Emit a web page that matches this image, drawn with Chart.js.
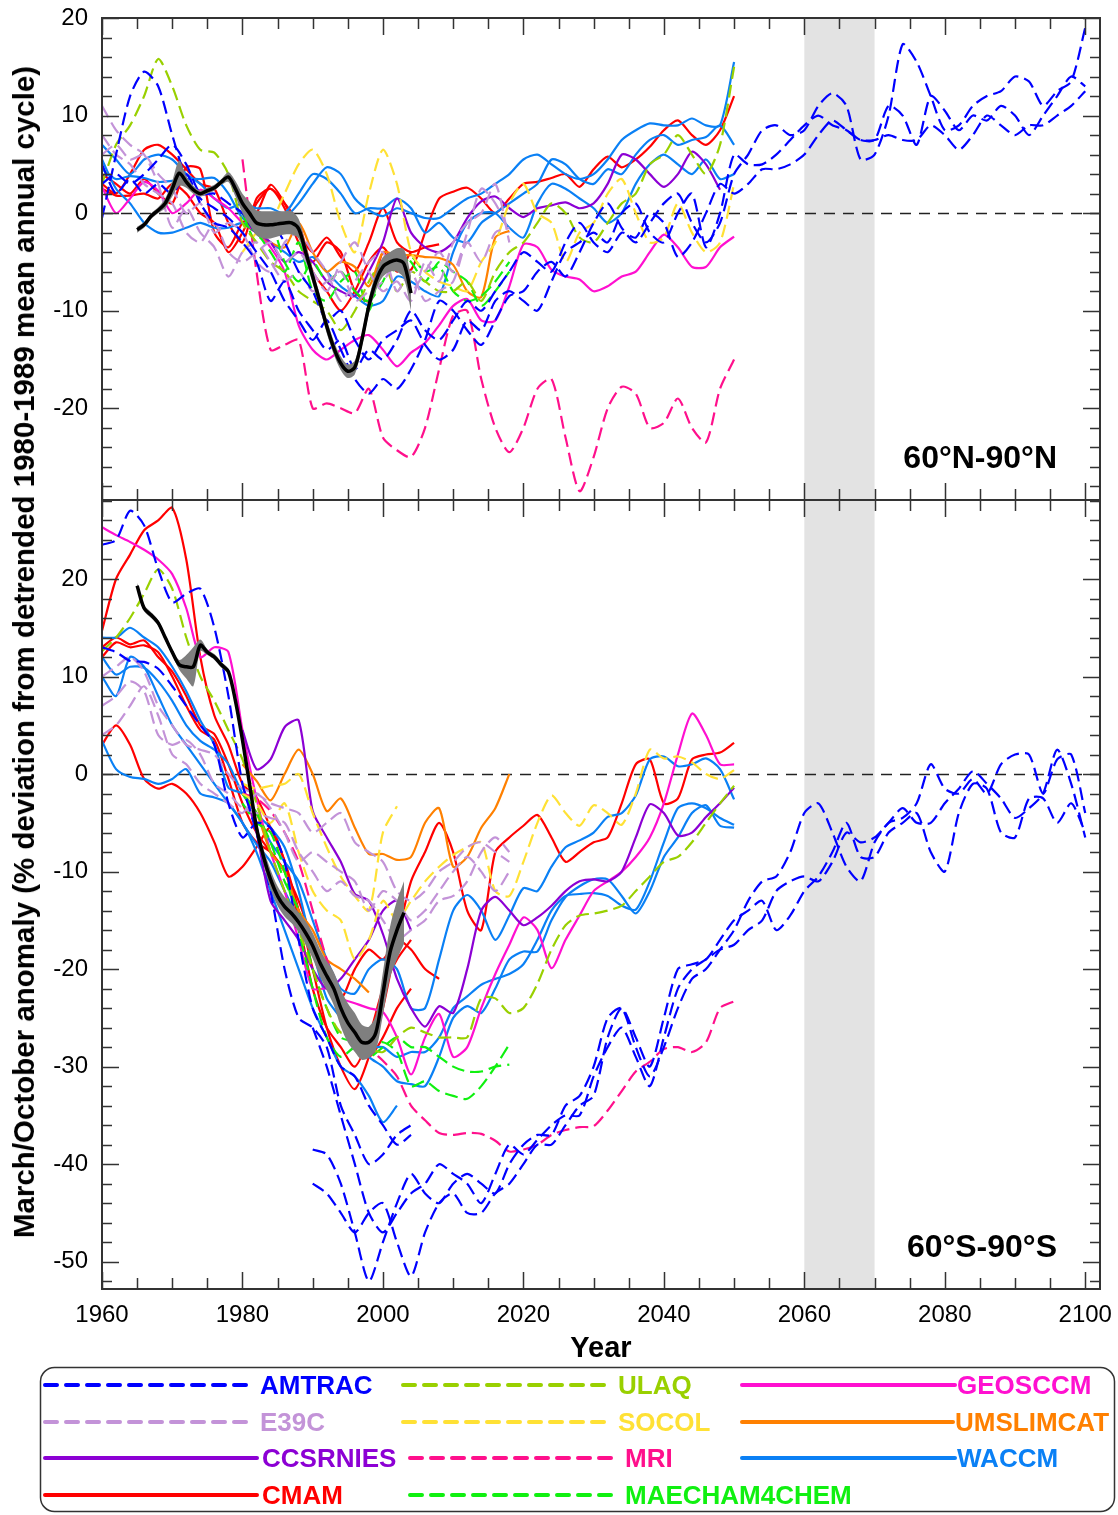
<!DOCTYPE html>
<html>
<head>
<meta charset="utf-8">
<script src="https://cdn.jsdelivr.net/npm/chart.js@4.4.1/dist/chart.umd.min.js"></script>
<style>
  body { margin: 0; background: #fff; width: 1118px; height: 1515px; position: relative; overflow: hidden;
         font-family: "Liberation Sans", Arial, sans-serif; color: #000; }
  #cN { position: absolute; left: 0; top: 0; }
  #cS { position: absolute; left: 0; top: 480px; }
  .ytitle { position: absolute; left: 24px; top: 652px; transform: translate(-50%, -50%) rotate(-90deg);
            white-space: nowrap; font-weight: bold; font-size: 29.5px; }
  .region { position: absolute; right: 61px; font-weight: bold; font-size: 32px; line-height: 32px; white-space: nowrap; }
  #legend { position: absolute; left: 0; top: 1360px; }
</style>
</head>
<body>
<canvas id="cN" width="1118" height="520"></canvas>
<canvas id="cS" width="1118" height="886"></canvas>
<div class="ytitle">March/October anomaly (% deviation from detrended 1980-1989 mean annual cycle)</div>
<div class="region" style="top:441px">60°N-90°N</div>
<div class="region" style="top:1230px">60°S-90°S</div>
<svg id="legend" width="1118" height="155"></svg>

<script>
// axes
const xMin = 1960, xMax = 2102.1;
const xTicks = [1960, 1980, 2000, 2020, 2040, 2060, 2080, 2100];
const yTicksN = [-20, -10, 0, 10, 20];
const yTicksS = [-50, -40, -30, -20, -10, 0, 10, 20];
const yRangeN = [-29.4, 20];
const yRangeS = [-52.8, 28.1];
const futureBand = [2060, 2070];

// ---- 60N-90N, values every 2 years ----
const amtracN1 = [-0.5, 6, 12, 14.5, 13, 8, 3.5, 1.5, 0.5, -0.5, -2, -4, -6, -9, -11, -13, -11, -14, -17, -18.5,
  -17, -18, -16, -13, -9, -10, -12, -13.5, -11, -8.5, -8, -6, -5, -6.5, -4, -1, 1, -1.5, -3, -1,
  1, 2, -1, -3, -1, 4, 6, 8.5, 9, 8, 8.5, 11, 12.3, 11, 5.5, 6, 10, 17.3, 15.5, 12,
  8.5, 9, 11, 12, 12.5, 14, 13.5, 11, 12.5, 13.5, 19];
const amtracN2 = [3, 4, 3, 4, 5.5, 7, 5, 2, 2, 1, 0, -2, -1, -3, -6, -8, -11, -10, -13, -15,
  -13, -12, -11, -13.5, -15, -14, -11, -12, -9, -8, -9, -10, -7, -4, -3, -2, -3, 0, 1, -2,
  -3, 0, 2, -3.5, 0, 6, 5, 5, 6, 7.5, 9, 10, 9, 8.5, 7.5, 7.5, 11, 10, 7, 12,
  10.5, 8.5, 10, 9.5, 11, 10, 8, 10, 12, 14, 13];
const amtracN3 = [5, 2, 3.5, 2, 3, 2, 4, 1, -1, -1.5, -3, -5, -9, -7, -10, -12, -14, -13, -16, -14,
  -15, -13, -10, -12, -13, -11, -9, -10, -8, -6, -4, -5, -6, -3, -1, -3, -4, -2, -2.5, 0,
  -1, -4.5, -3, 0, 3, 2, 3, 4.5, 4.5, 5, 6, 8, 9.5, 8.5, 7.5, 7.5, 8, 7.5, 7.5, 9,
  8, 6.5, 8, 10, 9, 8, 9, 9, 10, 11, 12.5];
const e39cN1 = [11, 8.5, 7, 6, 3, -1.5, 0.5, -2, -3.5, -6.5, -4, -3, -5, -7, -6, -8, -7, -6, -9, -8,
  -7, -5, -8, -6, -4, -6, -2, 2.5, 1, -2];
const e39cN2 = [8, 6, 5, 3, 2, 1, -2, -3, -1, -4, -5, -4, -3, -5, -4, -6, -8, -5, -3, -6,
  -8, -7, -9, -5, -7, -3, -1, 0, 3, -3];
const e39cN3 = [6, 7, 5.5, 6, 4, 2.5, 0, 1, -2, -1, -2, -5, -6, -3, -2, -4, -6, -9, -7, -5,
  -4, -8, -6, -9, -8, -7, -3, -5, -2, -1.5];
const ulaqN = [3, 7, 9, 12, 15.8, 13, 9, 6.5, 6.2, 4, -1, -3, -5, -6, -8, -9, -10, -12, -10, -7,
  -5, -8, -6, -7, -8, -8, -7, -9, -6, -4, -3, -1, 1, 0, -2.5, -3, -1, 1, 2, 5,
  6, 8, 6, 4, 7, 15];
const socolN = [-4, -2, -1, 2, 5, 6.5, 4, -1, -4, 2, 6.5, 3, -4, -6, -7, -7.5, -8, -5, -3, 1,
  3, 0, -1, -5, -2, -1, 2, 3.5, 0, -3, -2.5, 1, -2, -4, -3, 3];
const mriN = [5.5, -6, -14, -13.5, -13, -20, -19.5, -20, -20.5, -18, -23, -24.3, -25, -22, -16,
  -10.5, -10, -17, -22, -24.5, -22, -18, -17, -23, -28.5, -25, -20, -17.8, -18.5, -22,
  -21.5, -19, -22, -23.5, -18, -15];
const maeN1 = [-1, -2, -4, -6, -3, -8, -9, -7, -6, -10, -5, -6, -4.5, -6, -5.5, -8, -9, -8.5, -7, -5];
const maeN2 = [0, -3, -1, -5, -7, -5, -7, -6, -8, -9, -7, -4, -5, -7, -5, -6, -7, -9.5, -8, -6];
const ccsrN = [-1, -2, -3, -5, -4, -5, -7, -8, -8.5, -6, -3, 1.5, -2, -3.5, -4, -3, -0.5, 1.2, 1.7, 0.5,
  -0.4, 0.5, 0.8, 1.1, 0.5, 1, 3, 6, 5.5, 4, 2.7, 4, 6.3, 5, 2.4];
const cmamN1 = [3, 2, 4, 6.5, 7, 6, 4.5, 3, 2.5, -1, -3, 1.5, 2.5, 1, -1, -6, -8, -10, -8, -5,
  -3.5, -5.5, -5.8, -2, 1.5, 2.2, 2.6, 1.5, 0, 1.5, 3, 3.2, 3.6, 4, 2.7, 4.5, 5.8, 4.7, 5.5, 6.8,
  8.5, 9.5, 8, 7, 8.5, 12];
const cmamN2 = [2.5, 1.8, 1.8, 2, 1.5, 3, 2, 0, -1, -4, -2, 1, 2.5, 0.5, -3, -5, -3, -4, -8, -9,
  -4, -6, -4];
const cmamN3 = [4, 3, 2, 3.5, 2, 1, 4.7, 4.5, -2, -3.5, -1, 0, 2.9, 1, -2, -4, -2.5, -4.5, -6, -3,
  0.5, -3, -4, -3.5, -3.2];
const geosN = [2.7, 0, 1.5, 3.2, 2.3, 0, 1, 2.4, 1.5, 0.5, -1, -2, -3.5, -6, -11.5, -14, -15, -14, -13, -12.5,
  -14, -15.7, -14.3, -13.3, -11.5, -9.5, -8.8, -11, -11, -7.5, -3.2, -3.5, -5.8, -6.5, -6.8,
  -8, -7.5, -6.5, -6, -4, -2.2, -3.5, -5.5, -5.5, -3.5, -2.4];
const umslN = [-1, -2, -3, -3.5, -1, -4, -6, -5, -5.5, -7.5, -4, -4.3, -4.3, -4.5, -4.6, -5.3, -8, -8.6, -2.5, -1.8];
const waccmN1 = [4.5, 3.5, 3.8, 3.6, 3.2, 3.3, 3.5, 3.5, 3.6, 2, -0.5, -1, -1.2, -0.5, 1, 3, 4.7, 4, 1.5, 0.3,
  -0.3, 0.5, 0, -0.5, -0.5, 0.5, 1.5, 2, 3, 4, 5.5, 6, 5, 4, 3.5, 4, 5.5, 7.5, 8.5, 9.2,
  9, 9, 9.7, 9, 9, 15.5];
const waccmN2 = [7, 5.5, 4, 5.5, 6, 5.5, 4, 3, 1.5, 0.5, 1, 0.5, 0.5, 0, 2, 4, 3.5, 2, 0, 0.5,
  0.5, 1.5, 0.5, -2, -1, -2.5, -3, -1, 0, 1, 2, 3, 5.5, 5, 3.5, 3, 4.5, 4, 6, 7.5,
  8, 7, 7.5, 7.8, 9, 7];
const waccmN3 = [5.5, 2.5, 1, -1, -2, -2, -1.5, -1, -1.5, -1.5, -1, -2, -3, -4, -5, -4.5, -6, -7.5, -8.5, -9.5,
  -9, -6.5, -7, -8, -8.5, -4, -1, 0, 0, -1.5, -2.5, 1, 3, 2.5, 1.5, 0.5, -1, 0, 3, 5,
  6, 5, 4, 5.5, 3.5, 4];
// observations, yearly from 1965, with band half-width
const obsN = [-1.7, -1.2, -0.3, 0.3, 1, 2.5, 4.1, 3.2, 2.4, 2, 2.3, 2.6, 3.2, 3.7, 2.5,
  1, 0, -1, -1.2, -1.2, -1.1, -1, -1, -1.6, -4, -6.5, -9, -11.6, -13.8, -15.4,
  -16.2, -15.8, -13, -9.5, -7, -5.5, -5, -4.8, -5.2, -8.2];
const obsNErr = [0.3, 0.3, 0.3, 0.3, 0.5, 0.8, 1.3, 0.6, 0.4, 0.3, 0.3, 0.3, 0.3, 0.5, 0.8,
  1, 1.2, 1.3, 1.4, 1.4, 1.3, 1.2, 1.2, 1, 0.8, 0.7, 0.7, 0.7, 0.7, 0.7,
  0.7, 0.7, 0.7, 0.8, 0.9, 1, 1, 1.2, 1.5, 1.8];

// ---- 60S-90S, values every 2 years ----
const amtracS1 = [23.5, 24, 27, 25.5, 21, 17.6, 18.5, 19, 15, 8, -1, -6, -12, -20, -25, -26, -28, -34, -37, -40,
  -39, -37, -36];
const amtracS2 = [13, 12.5, 11.6, 11.5, 10.8, 9, 7, 5, 3, -3, -6.5, -5, -5.5, -9, -17, -24, -27, -30, -31, -34,
  -36, -38, -37];
const amtracS3 = [-38.5, -39, -42, -47, -52, -48, -44, -41, -43, -44, -42, -41, -42, -43, -40,
  -38, -37, -37, -34, -33, -30, -25, -24, -28, -31, -28, -24, -21, -20, -18,
  -16, -13, -11, -10.5, -8, -4, -3, -6, -9.5, -11, -7, -5, -4.5, -3, 1,
  -1.5, -2, -0.5, -2, 1, 2, 2, -2, 1.5, 2, -4];
const amtracS4 = [-42, -43, -45, -47, -45, -44, -48, -51.5, -47, -44, -43, -45, -45, -43, -42,
  -40, -38, -38, -36, -34, -33, -27, -24, -27, -30, -25, -20, -19.5, -19, -17,
  -15, -14, -13, -16, -14.5, -12, -10.5, -8, -5, -8.5, -8.5, -6, -5, -4, -8,
  -10, -4, -1, -1.5, -6, -6.5, -2.5, -2.5, -5, -3, -6];
const amtracS5 = [-26, -30, -35, -40, -45, -47, -45, -43, -42, -40, -41, -42, -44, -41, -38,
  -39, -37.5, -36, -35, -35, -31, -28, -26, -29, -32, -27, -22, -20, -19, -18,
  -17.5, -16, -15, -12, -11, -10.5, -11, -9, -6, -7, -6.5, -5, -3.5, -5, -5,
  -3, -1.5, 0.3, -1, -2.5, -4.5, -3.5, -2, 2.5, -1, -6.5];
const e39cS1 = [10, 11, 12, 10.5, 7, 5, 3, 2.5, 2, 0, -1.5, -2, -3, -3.5, -4, -6, -5, -4, -7, -8,
  -9, -12, -13, -12, -10, -9, -7.5, -7, -8, -9];
const e39cS2 = [7, 8, 9.5, 8.5, 4, 3, 3.5, 2, -1, -2, -3.5, -4, -4.5, -5, -8, -10, -12, -11, -12.5, -13,
  -15, -17, -16, -15, -13, -12.5, -11, -8, -6.5, -8];
const e39cS3 = [4, 5, 7, 9, 6, 2, 1, -1, -2, -3, -4, -2, -3.5, -6, -9, -8, -9, -10, -11, -14,
  -12, -13, -15, -14, -12, -10, -8.5, -10, -12, -10];
const ulaqS = [12.6, 14, 16, 18.5, 21, 19, 14, 10, 7.5, 4.5, 1.5, -3, -8, -12, -16, -20, -24, -26.5, -26, -28,
  -28.5, -27, -26, -26.5, -27, -27, -27, -23, -23, -24.5, -24, -21.5, -18, -15.5, -14.5,
  -14.3, -14, -13.5, -12, -10.5, -9, -8.5, -7, -5, -3, -1.2];
const socolS1 = [-1, -1.5, -1.2, -1, 0, -4, -7.5, -10.5, -12.5, -14, -6, -3.3];
const socolS2 = [-2, -3, -5, -3, -8, -12, -14, -15, -19, -17, -13, -15, -13, -11, -9.5, -8.3, -7.5, -7, -12, -12.5,
  -9, -5, -2.2, -4, -5.3, -3.2, -4, -5.2, -2, 2.5, 1.6, 1.8, 1.2, 0, -0.5, 0.4];
const mriS = [-2, -2.5, -3.8, -6, -9, -14, -19, -23, -25, -28, -29.4, -31, -34, -35.5, -36.8,
  -37, -36.8, -36.9, -37.6, -38.7, -38.5, -38, -37, -36.5, -36.2, -36.1, -34.5, -32.5, -30.5, -29.5,
  -28.2, -28, -28.5, -27.5, -24, -23.3];
const maeS1 = [-3, -5, -6, -10, -16, -22, -27, -29, -28, -28, -27.5, -28.5, -32, -31.5, -32.5, -33, -33.3, -32, -30, -27.7];
const maeS2 = [-2, -4, -7, -11, -14, -20, -24, -27, -27.5, -29, -28, -27, -28, -28, -29, -30, -30.5, -30.5, -30, -29.8];
const ccsrS1 = [4.5, 0.5, 1.5, 4.8, 5.5, -3.8, -6.5, -9, -12.3, -13, -16.4, -21, -24, -25.9, -23.8,
  -24.5, -20, -14, -12.6, -14, -15.5, -14.7, -13.5, -12, -11, -10.8, -11, -10, -6.5, -3.1,
  -4, -6.3, -6, -4.4, -3, -1.4];
const ccsrS2 = [-1, -6, -13, -15, -17, -20, -22, -21, -19, -17, -14, -13, -16];
const cmamS1 = [14.7, 20, 22.5, 25, 26, 27.3, 22, 12, 6, 3, -1, -2.4, -5.5, -8.9, -14, -20, -26, -30, -32.3, -29,
  -24, -17, -11, -8, -5, -8, -14, -16, -8, -6.5, -5.3, -4.2, -6.5, -9, -8, -7, -6.5, -3, 1, 1.5,
  -3, -2.5, 1.5, 2, 2.2, 3.2];
const cmamS2 = [12, 13.5, 13, 13.2, 12.5, 10, 7, 4.5, 3.5, -0.5, -5, -7, -8, -10, -14, -18, -20, -23, -20, -18,
  -19, -17, -18, -20, -21];
const cmamS3 = [3, 5, 3, -0.5, -1.5, -1, -2, -4, -7, -10.5, -9.5, -7.5, -5.5, -9, -15, -22, -26, -28, -30, -27,
  -22, -19, -17];
const cmamS4 = [13, 14, 13.3, 13.7, 12, 10.5, 8, 5, 4.1, 1, -3, -6, -8, -10, -13, -17, -20, -23, -27, -29,
  -27, -24, -22];
const geosS = [25.3, 24.5, 23.8, 23, 22, 20.5, 17, 12, 13, 12.5, 4.5, -2.5, -8, -12, -17, -22, -22, -23, -23.5, -24,
  -24.4, -27, -30.8, -27, -24.6, -29, -28, -24, -20.5, -17.5, -14.7, -16, -19.9, -17, -14.5,
  -12, -11, -10, -8.5, -6.5, -3, 2, 6.2, 4, 1, 1];
const umslS1 = [1, -0.7, -2.7, 0, 2.5, 0, -3.8, -2.5, -5.5, -8.2, -8.2, -8.8, -8.5, -5, -3.5, -9.5, -8.5, -5.5, -3.5, 0];
const umslS2 = [-2, -4, -8, -10, -14, -16, -19, -20, -21, -22.4];
const waccmS1 = [14, 14, 15, 14, 13, 11, 8.5, 5.5, 3, -1.4, -2, -4, -7, -9, -11, -15, -19, -22, -22.5, -20,
  -19, -20, -24, -24, -19, -14, -12.4, -14, -17, -14.5, -11.7, -12, -9.5, -7.5, -6.8,
  -6, -4.4, -4, -2.2, 1.5, 1.8, 0.8, 1, 1.6, 0.5, -2.6];
const waccmS2 = [12, 10.2, 11, 10.9, 9.5, 7.5, 5, 3.4, 2.5, 1, -2, -4.1, -5.5, -7.5, -12, -18, -23, -25, -27, -29,
  -30, -31.5, -31.8, -32, -29, -25, -23.8, -24.5, -22, -19, -18.2, -18.2, -15, -12.6, -11.5,
  -10.8, -10.8, -12.5, -14.3, -12, -8.5, -6.5, -4, -3.2, -5.3, -5.5];
const waccmS3 = [3.4, 0.5, -0.3, -0.5, -1, -0.5, 0.5, -2, -2.4, -3, -5, -7.2, -9, -12, -15, -18, -21, -25, -27, -28,
  -28, -29, -28.5, -28.5, -27, -24, -22.8, -21.6, -21, -20.5, -19.5, -17, -14, -12.5, -12.3,
  -12.2, -12.5, -13.5, -13.9, -11, -7, -3.5, -3, -3.5, -4.5, -5.2];
const waccmS4 = [10, 8, 12, 11, 8, 5, 3, 1, -1, -3, -5, -8, -12, -16, -20, -24, -27, -30, -31, -33, -35.7, -34];
const obsS = [19.3, 17, 16.3, 15.5, 14, 12.5, 11.2, 11, 11, 13.2, 12.5, 12, 11.2, 10.5, 7.5,
  3.5, -1, -5.5, -8.5, -10.8, -12.5, -13.6, -14.3, -15.2, -16.3, -17.6, -19.3, -20.7, -22, -24,
  -25.5, -26.5, -27.5, -27.5, -26.5, -22.5, -18.3, -16, -14.2];
const obsSErr = [0.3, 0.3, 0.3, 0.3, 0.3, 0.3, 0.5, 1.2, 2, 0.6, 0.3, 0.3, 0.3, 0.3, 0.3,
  0.3, 0.4, 0.6, 0.8, 1, 1, 1, 1, 1, 1.2, 1.3, 1.4, 1.5, 1.7, 1.9,
  2, 2, 1.8, 1.6, 1.8, 2.2, 2.6, 3, 3.2];

const runsN = [
  ['AMTRAC', 1960, amtracN1], ['AMTRAC', 1960, amtracN2], ['AMTRAC', 1960, amtracN3],
  ['E39C', 1960, e39cN1], ['E39C', 1960, e39cN2], ['E39C', 1960, e39cN3],
  ['ULAQ', 1960, ulaqN], ['SOCOL', 1980, socolN], ['MRI', 1980, mriN],
  ['MAECHAM4CHEM', 1980, maeN1], ['MAECHAM4CHEM', 1980, maeN2], ['CCSRNIES', 1980, ccsrN],
  ['UMSLIMCAT', 1980, umslN], ['GEOSCCM', 1960, geosN],
  ['WACCM', 1960, waccmN1], ['WACCM', 1960, waccmN2], ['WACCM', 1960, waccmN3],
  ['CMAM', 1960, cmamN1], ['CMAM', 1960, cmamN2], ['CMAM', 1960, cmamN3]
];
const runsS = [
  ['AMTRAC', 1960, amtracS1], ['AMTRAC', 1960, amtracS2], ['AMTRAC', 1990, amtracS3],
  ['AMTRAC', 1990, amtracS4], ['AMTRAC', 1990, amtracS5],
  ['E39C', 1960, e39cS1], ['E39C', 1960, e39cS2], ['E39C', 1960, e39cS3],
  ['ULAQ', 1960, ulaqS], ['SOCOL', 1980, socolS1], ['SOCOL', 1980, socolS2], ['MRI', 1980, mriS],
  ['MAECHAM4CHEM', 1980, maeS1], ['MAECHAM4CHEM', 1980, maeS2],
  ['CCSRNIES', 1980, ccsrS1], ['CCSRNIES', 1980, ccsrS2],
  ['UMSLIMCAT', 1980, umslS1], ['UMSLIMCAT', 1980, umslS2], ['GEOSCCM', 1960, geosS],
  ['WACCM', 1960, waccmS1], ['WACCM', 1960, waccmS2], ['WACCM', 1960, waccmS3], ['WACCM', 1960, waccmS4],
  ['CMAM', 1960, cmamS1], ['CMAM', 1960, cmamS2], ['CMAM', 1960, cmamS3], ['CMAM', 1960, cmamS4]
];

const styles = {
  AMTRAC: { color: '#0000ff', dash: true },
  E39C: { color: '#c393d8', dash: true },
  CCSRNIES: { color: '#8c00d4', dash: false },
  CMAM: { color: '#ff0000', dash: false },
  ULAQ: { color: '#99d000', dash: true },
  SOCOL: { color: '#ffe135', dash: true },
  MRI: { color: '#ff108c', dash: true },
  MAECHAM4CHEM: { color: '#10f010', dash: true },
  GEOSCCM: { color: '#ff10d0', dash: false },
  UMSLIMCAT: { color: '#ff8000', dash: false },
  WACCM: { color: '#0a80f5', dash: false }
};

Chart.defaults.font.family = '"Liberation Sans", Arial, sans-serif';
Chart.defaults.color = '#000';

function pts(start, vals, step) {
  return vals.map((v, i) => ({ x: start + i * (step || 2), y: v }));
}

function buildSets(runs, obs, err) {
  const hi = obs.map((v, i) => v + err[i]);
  const lo = obs.map((v, i) => v - err[i]);
  const sets = [
    { data: pts(1965, obs, 1), borderColor: '#000', borderWidth: 3.5, pointRadius: 0, tension: 0.3, fill: false },
    { data: pts(1965, hi, 1), borderWidth: 0, pointRadius: 0, tension: 0.3, backgroundColor: '#7f7f7f', fill: '+1' },
    { data: pts(1965, lo, 1), borderWidth: 0, pointRadius: 0, tension: 0.3, fill: false }
  ];
  runs.forEach(([m, start, vals]) => {
    sets.push({
      data: pts(start, vals),
      borderColor: styles[m].color,
      borderWidth: 2.2,
      borderDash: styles[m].dash ? [13, 6] : [],
      pointRadius: 0,
      tension: 0.25,
      fill: false
    });
  });
  return sets;
}

// grey 2060-2070 band, zero line, inward ticks and frame
const panelDeco = {
  id: 'panelDeco',
  beforeDatasetsDraw(chart) {
    const { ctx, chartArea: a, scales: { x, y } } = chart;
    ctx.save();
    const x0 = x.getPixelForValue(futureBand[0]), x1 = x.getPixelForValue(futureBand[1]);
    ctx.fillStyle = '#e3e3e3';
    ctx.fillRect(x0, a.top, x1 - x0, a.bottom - a.top);
    const y0 = Math.round(y.getPixelForValue(0)) + 0.5;
    ctx.strokeStyle = '#222';
    ctx.lineWidth = 1.3;
    ctx.setLineDash([11, 8]);
    ctx.beginPath();
    ctx.moveTo(a.left, y0);
    ctx.lineTo(a.right, y0);
    ctx.stroke();
    ctx.restore();
  },
  afterDraw(chart) {
    const { ctx, chartArea: a, scales: { x, y } } = chart;
    ctx.save();
    ctx.strokeStyle = '#333';
    ctx.lineWidth = 1.5;
    ctx.beginPath();
    for (let yr = 1960; yr <= 2100; yr += 5) {
      const px = Math.round(x.getPixelForValue(yr)) + 0.5;
      const len = yr % 20 === 0 ? 17 : 11;
      ctx.moveTo(px, a.top); ctx.lineTo(px, a.top + len);
      ctx.moveTo(px, a.bottom); ctx.lineTo(px, a.bottom - len);
    }
    for (let v = Math.ceil(y.min / 2) * 2; v <= y.max; v += 2) {
      const py = Math.round(y.getPixelForValue(v)) + 0.5;
      const len = v % 10 === 0 ? 17 : 10;
      ctx.moveTo(a.left, py); ctx.lineTo(a.left + len, py);
      ctx.moveTo(a.right, py); ctx.lineTo(a.right - len, py);
    }
    ctx.stroke();
    ctx.lineWidth = 2;
    ctx.strokeRect(a.left, a.top, a.right - a.left, a.bottom - a.top);
    ctx.restore();
  }
};

function yScale(range, ticks) {
  return {
    min: range[0], max: range[1],
    afterFit(s) { s.width = 102; },
    afterBuildTicks(s) { s.ticks = ticks.map(v => ({ value: v })); },
    grid: { drawOnChartArea: false, color: 'rgba(0,0,0,0)', tickLength: 14 },
    border: { display: false },
    ticks: { font: { size: 24 }, color: '#000', padding: 0, callback: v => String(v) }
  };
}

// 60N-90N
new Chart(document.getElementById('cN'), {
  type: 'line',
  data: { datasets: buildSets(runsN, obsN, obsNErr) },
  options: {
    responsive: false, animation: false,
    layout: { padding: { top: 18, right: 18, bottom: 20, left: 0 } },
    plugins: { legend: { display: false }, tooltip: { enabled: false } },
    scales: {
      x: { type: 'linear', display: false, min: xMin, max: xMax },
      y: yScale(yRangeN, yTicksN)
    }
  },
  plugins: [panelDeco]
});

// 60S-90S
new Chart(document.getElementById('cS'), {
  type: 'line',
  data: { datasets: buildSets(runsS, obsS, obsSErr) },
  options: {
    responsive: false, animation: false,
    layout: { padding: { top: 20, right: 18, bottom: 0, left: 0 } },
    plugins: { legend: { display: false }, tooltip: { enabled: false } },
    scales: {
      x: {
        type: 'linear', min: xMin, max: xMax,
        afterFit(s) { s.height = 77; },
        afterBuildTicks(s) { s.ticks = xTicks.map(v => ({ value: v })); },
        grid: { drawOnChartArea: false, color: 'rgba(0,0,0,0)', tickLength: 12 },
        border: { display: false },
        ticks: { font: { size: 24 }, color: '#000', padding: 0, maxRotation: 0, autoSkip: false, callback: v => String(v) },
        title: { display: true, text: 'Year', font: { size: 29, weight: 'bold' }, color: '#000', padding: 0 }
      },
      y: yScale(yRangeS, yTicksS)
    }
  },
  plugins: [panelDeco]
});

// legend
const legendItems = [
  { name: 'AMTRAC', row: 0, x1: 45, x2: 250, tx: 260 },
  { name: 'E39C', row: 1, x1: 45, x2: 250, tx: 260 },
  { name: 'CCSRNIES', row: 2, x1: 45, x2: 257, tx: 262 },
  { name: 'CMAM', row: 3, x1: 45, x2: 257, tx: 262 },
  { name: 'ULAQ', row: 0, x1: 403, x2: 610, tx: 618 },
  { name: 'SOCOL', row: 1, x1: 403, x2: 610, tx: 618 },
  { name: 'MRI', row: 2, x1: 410, x2: 615, tx: 625 },
  { name: 'MAECHAM4CHEM', row: 3, x1: 410, x2: 615, tx: 625 },
  { name: 'GEOSCCM', row: 0, x1: 742, x2: 955, tx: 957 },
  { name: 'UMSLIMCAT', row: 1, x1: 742, x2: 953, tx: 955 },
  { name: 'WACCM', row: 2, x1: 742, x2: 955, tx: 957 }
];
const rowY = [25, 62, 98, 135];
const svg = document.getElementById('legend');
let html = '<rect x="40.5" y="7.5" width="1074" height="144" rx="14" ry="14" fill="#fff" stroke="#333" stroke-width="1.5"/>';
legendItems.forEach(it => {
  const st = styles[it.name];
  const y = rowY[it.row];
  html += `<line x1="${it.x1}" y1="${y}" x2="${it.x2}" y2="${y}" stroke="${st.color}" stroke-width="4" stroke-linecap="round"` +
    (st.dash ? ' stroke-dasharray="12 9"' : '') + '/>';
  html += `<text x="${it.tx}" y="${y + 9}" fill="${st.color}" font-family="Liberation Sans, Arial, sans-serif" font-weight="bold" font-size="26">${it.name}</text>`;
});
svg.innerHTML = html;
</script>
</body>
</html>
